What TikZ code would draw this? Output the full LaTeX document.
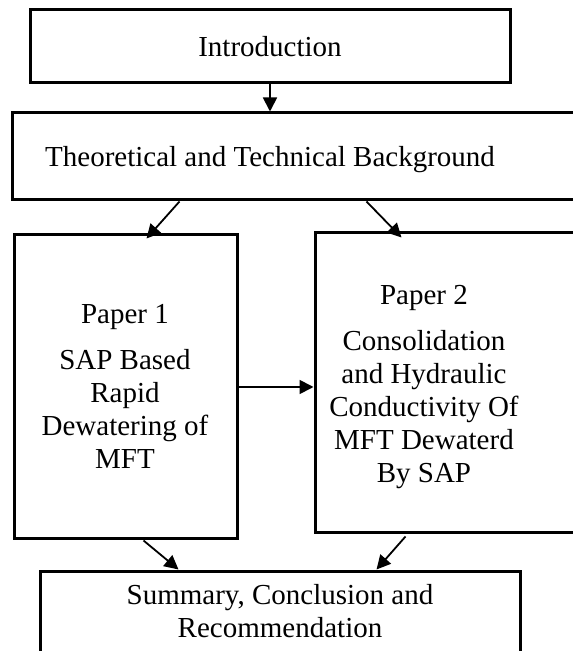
\documentclass[tikz,border=0pt]{standalone}
\usepackage{fontspec}
\setmainfont{Liberation Serif}
\usetikzlibrary{arrows.meta}
\tikzset{
  box/.style={draw, line width=3pt, rectangle, inner sep=0pt},
  txt/.style={align=center, inner sep=0pt, anchor=base, font=\fontsize{29}{33}\selectfont},
  conn/.style={line width=1.8pt, -{Triangle[length=14pt,width=14pt]}}
}
\begin{document}
\begin{tikzpicture}[x=1pt,y=1pt]
\useasboundingbox (0,0) rectangle (573,651);
\clip (0,0) rectangle (573,651);
\fill[white] (0,0) rectangle (573,651);
% boxes
\node[box, minimum width=480pt, minimum height=73pt] (intro) at (270,604.5) {};
\node[box, minimum width=578pt, minimum height=87pt] (theor) at (301,494.5) {};
\node[box, minimum width=223pt, minimum height=304pt] (p1) at (125.5,264) {};
\node[box, minimum width=275pt, minimum height=300pt] (p2) at (452.5,268) {};
\node[box, minimum width=480pt, minimum height=108pt] (sum) at (280,25) {};
% texts (multi-line texts placed by their last baseline)
\node[txt] (tintro) at (270,594) {Introduction};
\node[txt] (ttheor) at (270,484) {Theoretical and Technical Background};
\node[txt] (tp1) at (125,182) {Paper 1\\[13pt]SAP Based\\Rapid\\Dewatering of\\MFT};
\node[txt] (tp2) at (424,168) {Paper 2\\[13pt]Consolidation\\and Hydraulic\\Conductivity Of\\MFT Dewaterd\\By SAP};
\node[txt] (tsum) at (280,13) {Summary, Conclusion and\\Recommendation};
% connectors
\draw[conn] (intro.south) -- (intro.south |- theor.north);
\draw[conn] ([xshift=169pt]theor.south west) -- ([xshift=134pt,yshift=-5pt]p1.north west);
\draw[conn] ([xshift=356pt]theor.south west) -- ([xshift=88pt,yshift=-6pt]p2.north west);
\draw[conn] (p1.east) -- (p1.east -| p2.west);
\draw[conn] ([xshift=131pt]p1.south west) -- ([xshift=140pt,yshift=1pt]sum.north west);
\draw[conn] ([xshift=92pt,yshift=-2pt]p2.south west) -- ([xshift=338pt,yshift=1pt]sum.north west);
\end{tikzpicture}
\end{document}
